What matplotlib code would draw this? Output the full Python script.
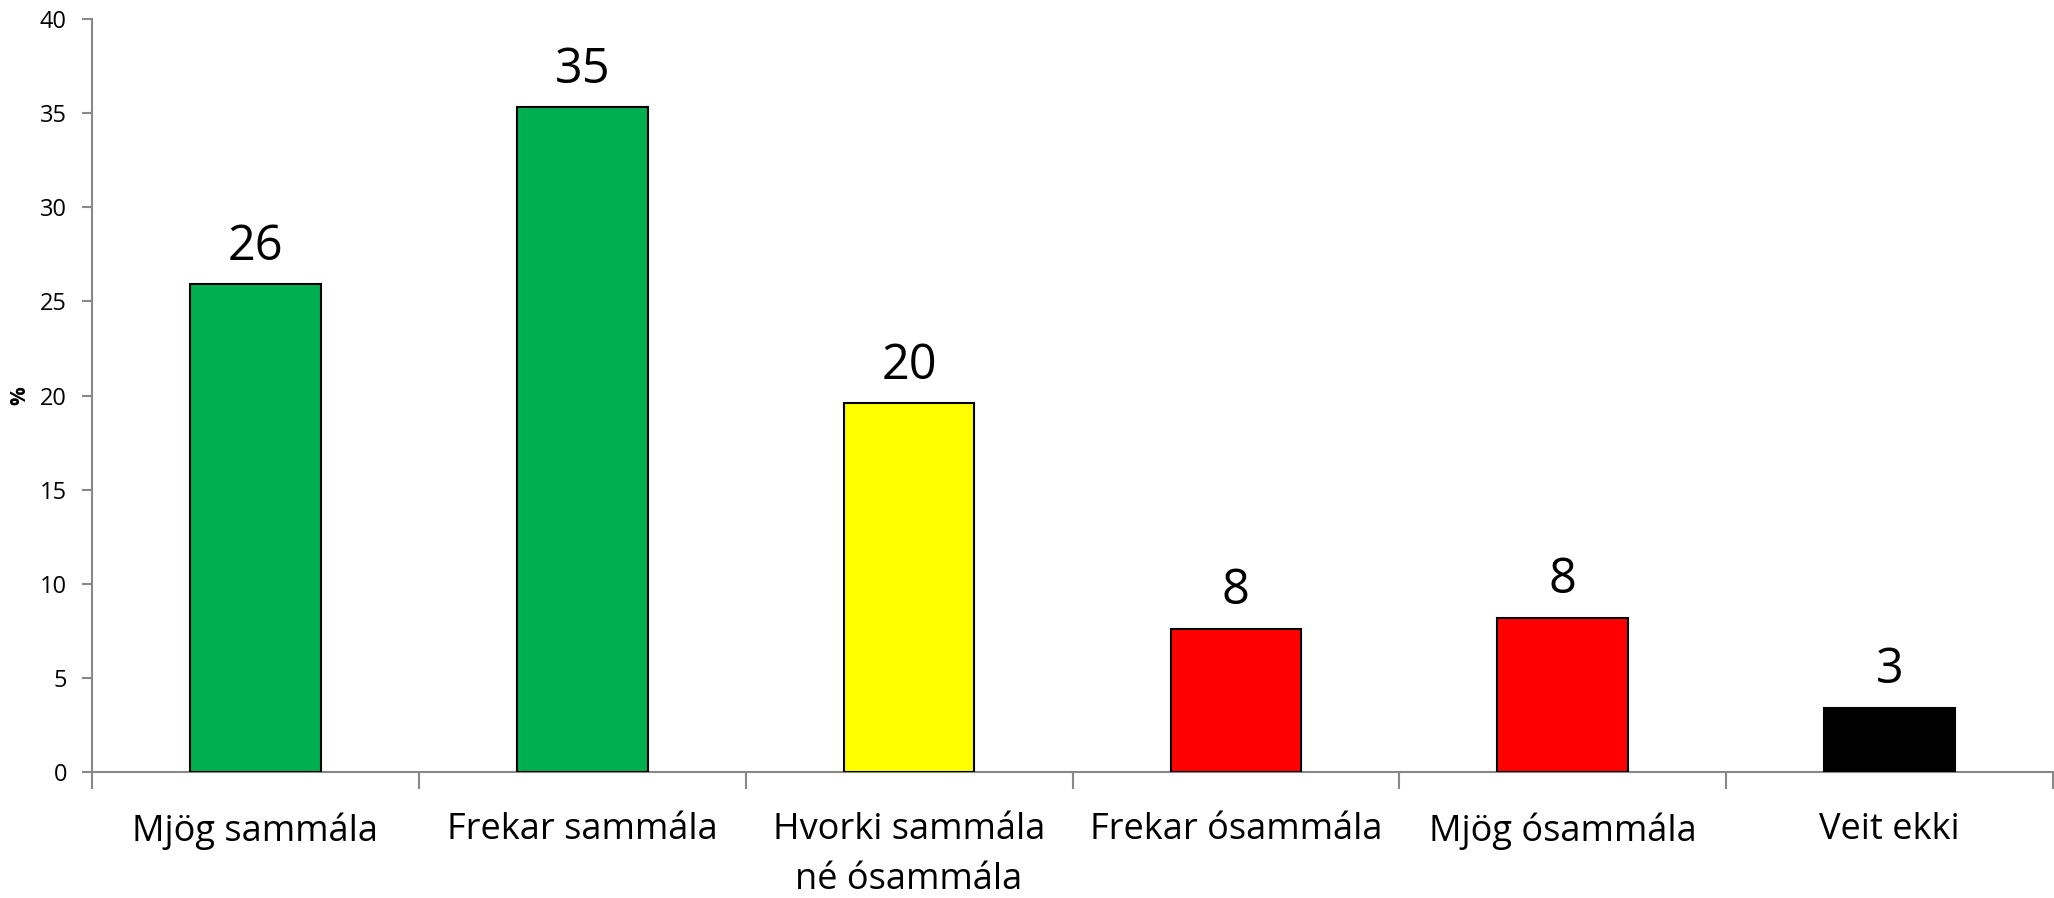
import matplotlib
matplotlib.use("Agg")
import matplotlib.pyplot as plt
import numpy as np

categories = ["Mjög sammála", "Frekar sammála", "Hvorki sammála\nné ósammála",
              "Frekar ósammála", "Mjög ósammála", "Veit ekki"]
values = [25.9, 35.3, 19.6, 7.6, 8.2, 3.4]
colors = ["#00B050", "#00B050", "#FFFF00", "#FF0000", "#FF0000", "#000000"]
y_ticks = [0, 5, 10, 15, 20, 25, 30, 35, 40]

plt.rcParams['font.family'] = ['Open Sans', 'DejaVu Sans']

fig = plt.figure(figsize=(20.54, 8.98), dpi=100)
ax = fig.add_axes([92/2054, 1-772/898, (2053-92)/2054, (772-19)/898])

x = np.arange(len(categories))
bars = ax.bar(x, values, width=0.4, color=colors, edgecolor="black", linewidth=1.5, zorder=3)
for xi, v in zip(x, values):
    ax.annotate(f"{v:.0f}", (xi, v), xytext=(0, 9), textcoords="offset points",
                ha="center", va="bottom", fontsize=35)

ax.set_xlim(-0.5, len(categories) - 0.5)
ax.set_ylim(0, 40)
ax.set_yticks(y_ticks)
ax.set_yticklabels([str(t) for t in y_ticks], fontsize=17)
ax.set_xticks(x)
ax.set_xticklabels(categories, fontsize=26, linespacing=1.5)
ax.set_xticks(np.arange(-0.5, len(categories)), minor=True)
ax.tick_params(axis="x", which="major", length=0, pad=29)
ax.tick_params(axis="x", which="minor", length=12, width=1.5, color="#888888", direction="out")
ax.tick_params(axis="y", length=7, width=1.5, color="#888888", pad=11)

for s in ["top", "right"]:
    ax.spines[s].set_visible(False)
for s in ["left", "bottom"]:
    ax.spines[s].set_color("#888888")
    ax.spines[s].set_linewidth(1.5)

ax.set_ylabel("%", fontsize=15, fontweight="bold", labelpad=7)

fig.savefig("out.png", dpi=100)
